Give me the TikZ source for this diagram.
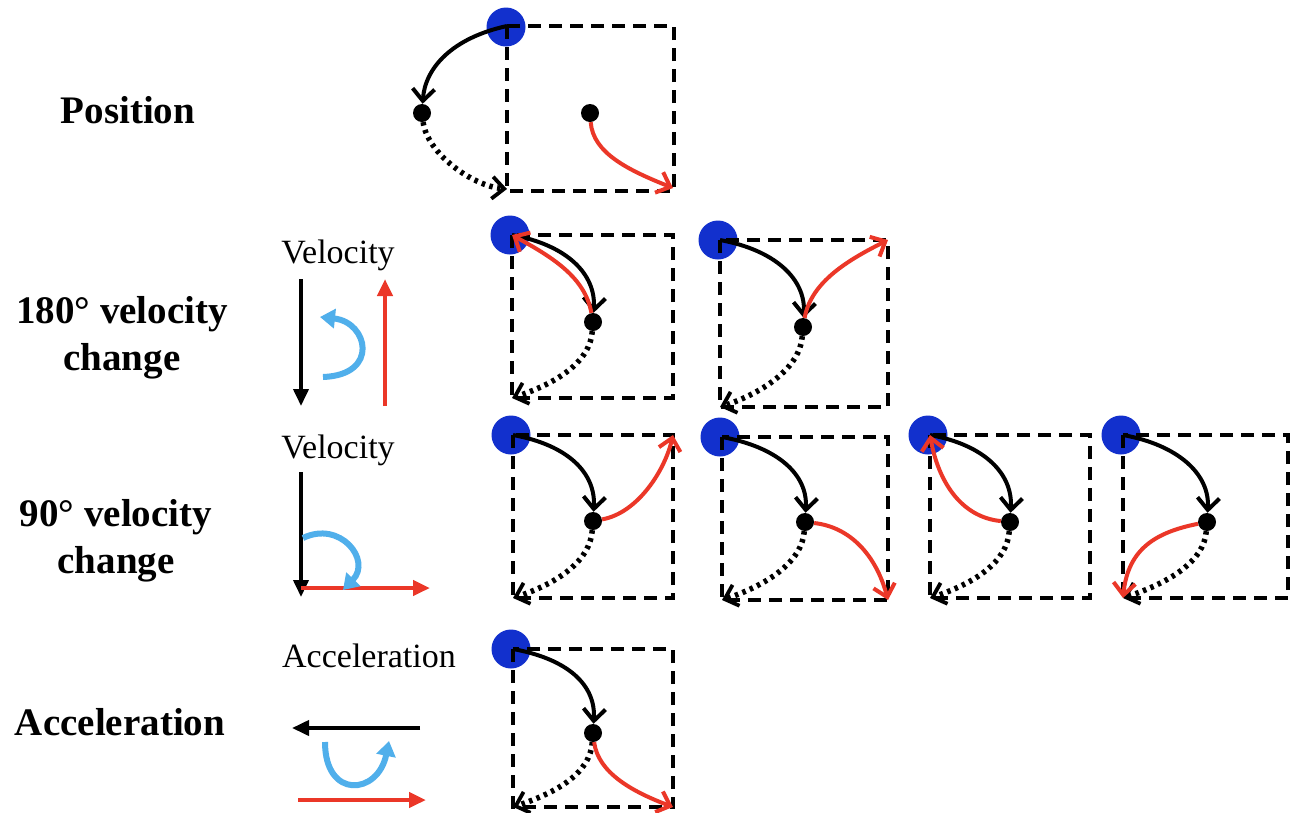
\documentclass[tikz,border=0pt]{standalone}
\usepackage{fontspec}
\setmainfont{Liberation Serif}
\usetikzlibrary{arrows.meta}
\definecolor{ballblue}{RGB}{18,48,205}
\definecolor{myred}{RGB}{235,55,40}
\definecolor{skyb}{RGB}{80,175,235}
\tikzset{
 ball/.style={circle,fill=ballblue,minimum size=39pt,inner sep=0pt},
 dot/.style={circle,fill=black,minimum size=18pt,inner sep=0pt},
 box/.style={line width=4.5pt,dash pattern=on 13pt off 8pt},
 vel/.style={line width=4pt,-{Straight Barb[length=12pt,width=22pt]}},
 prev/.style={line width=5.5pt,dash pattern=on 3.5pt off 4.5pt,-{Straight Barb[length=12pt,width=22pt,line width=3.8pt]}},
 newv/.style={line width=4pt,myred,-{Straight Barb[length=12pt,width=22pt]}},
 vec/.style={line width=3.8pt,-{Triangle[length=17pt,width=15pt]}},
 turn/.style={line width=6pt,skyb,-{Triangle[length=15pt,width=19pt]}},
 lab/.style={font=\fontsize{39}{47}\selectfont\bfseries,align=center,inner sep=0pt},
 small/.style={font=\fontsize{34}{40}\selectfont,inner sep=0pt},
}
\newcommand\stdpanel[7]{%
 \node[ball] (#1ball) at (#2-2,#3) {};
 \coordinate (#1tl) at (#2,#3);
 \coordinate (#1tr) at (#4,#3);
 \coordinate (#1br) at (#4,#5);
 \coordinate (#1bl) at (#2,#5);
 \draw[box] (#1tl) rectangle (#1br);
 \node[dot] (#1d) at (#6,#7) {};
 \draw[vel] (#1tl) .. controls +(55,10) and +(3,-48) .. (#1d);
 \draw[prev] (#1d) .. controls +(-3,40) and +(45,-15) .. (#1bl);
}
\begin{document}
\begin{tikzpicture}[x=1pt,y=-1pt]
\useasboundingbox[fill=white] (0,0) rectangle (1291,812);

% ---- labels
\node[lab] (lpos) at (128,110) {Position};
\node[lab] (l180) at (122,338) {180° velocity\\change};
\node[lab] (l90) at (116,541) {90° velocity\\change};
\node[lab] (lacc) at (120,722) {Acceleration};
\node[small] (sv1) at (338,255) {Velocity};
\node[small] (sv2) at (338,450) {Velocity};
\node[small] (sacc) at (369,656) {Acceleration};

% ---- position panel
\node[ball] (Pball) at (506,27) {};
\coordinate (Ptl) at (507,26);
\coordinate (Pbr) at (674,191);
\coordinate (Pbl) at (507,189);
\coordinate (Pbrt) at (673,188);
\draw[box] (Ptl) rectangle (Pbr);
\node[dot] (Pd1) at (422,113) {};
\node[dot] (Pd2) at (590,113) {};
\draw[vel] (Ptl) .. controls +(-55,12) and +(3,-45) .. (Pd1);
\draw[prev] (Pd1) .. controls +(5,40) and +(-35,-3) .. (Pbl);
\draw[newv] (Pd2) .. controls +(3,40) and +(-45,-18) .. (Pbrt);

% ---- 180 panels
\stdpanel{A}{512}{235}{673}{398}{593}{322}
\draw[newv] (Ad) .. controls +(-8,-45) and +(40,22) .. (Atl);
\stdpanel{B}{720}{240}{888}{407}{803}{327}
\draw[newv] (Bd) .. controls +(8,-45) and +(-40,20) .. (Btr);

% ---- 90 panels
\stdpanel{C}{513}{435}{673}{598}{593}{521}
\draw[newv] (Cd) .. controls +(45,-8) and +(-8,35) .. (Ctr);
\stdpanel{D}{722}{437}{888}{600}{805}{522}
\draw[newv] (Dd) .. controls +(45,5) and +(-12,-45) .. (Dbr);
\stdpanel{E}{930}{435}{1090}{598}{1010}{522}
\draw[newv] (Ed) .. controls +(-50,-5) and +(8,45) .. (Etl);
\stdpanel{F}{1123}{435}{1288}{598}{1207}{522}
\draw[newv] (Fd) .. controls +(-50,10) and +(5,-50) .. (Fbl);

% ---- acceleration panel
\stdpanel{G}{513}{649}{673}{807}{593}{733}
\draw[newv] (Gd) .. controls +(5,40) and +(-40,-15) .. (Gbr);

% ---- velocity vectors, 180
\coordinate (v1a) at (301,279);
\coordinate (v1b) at (301,406);
\coordinate (v1c) at (385,406);
\coordinate (v1d) at (385,279);
\draw[vec] (v1a) -- (v1b);
\draw[vec,myred,line width=4.5pt] (v1c) -- (v1d);
\coordinate (t1a) at (323,377);
\coordinate (t1b) at (320,317);
\draw[turn] (t1a) .. controls (380,375) and (368,322) .. (t1b);

% ---- velocity vectors, 90
\coordinate (v2a) at (301,472);
\coordinate (v2b) at (301,597);
\coordinate (v2c) at (301,588);
\coordinate (v2d) at (430,588);
\draw[vec] (v2a) -- (v2b);
\draw[vec,myred,line width=4.5pt] (v2c) -- (v2d);
\coordinate (t2a) at (303,538);
\coordinate (t2b) at (343,590);
\draw[turn] (t2a) .. controls (340,520) and (372,560) .. (t2b);

% ---- acceleration vectors
\coordinate (aa) at (420,728);
\coordinate (ab) at (292,728);
\coordinate (ac) at (298,800);
\coordinate (ad) at (426,800);
\draw[vec] (aa) -- (ab);
\draw[vec,myred,line width=4.5pt] (ac) -- (ad);
\coordinate (t3a) at (325,742);
\coordinate (t3b) at (389,741);
\draw[turn] (t3a) .. controls (325,800) and (378,795) .. (t3b);
\end{tikzpicture}
\end{document}
